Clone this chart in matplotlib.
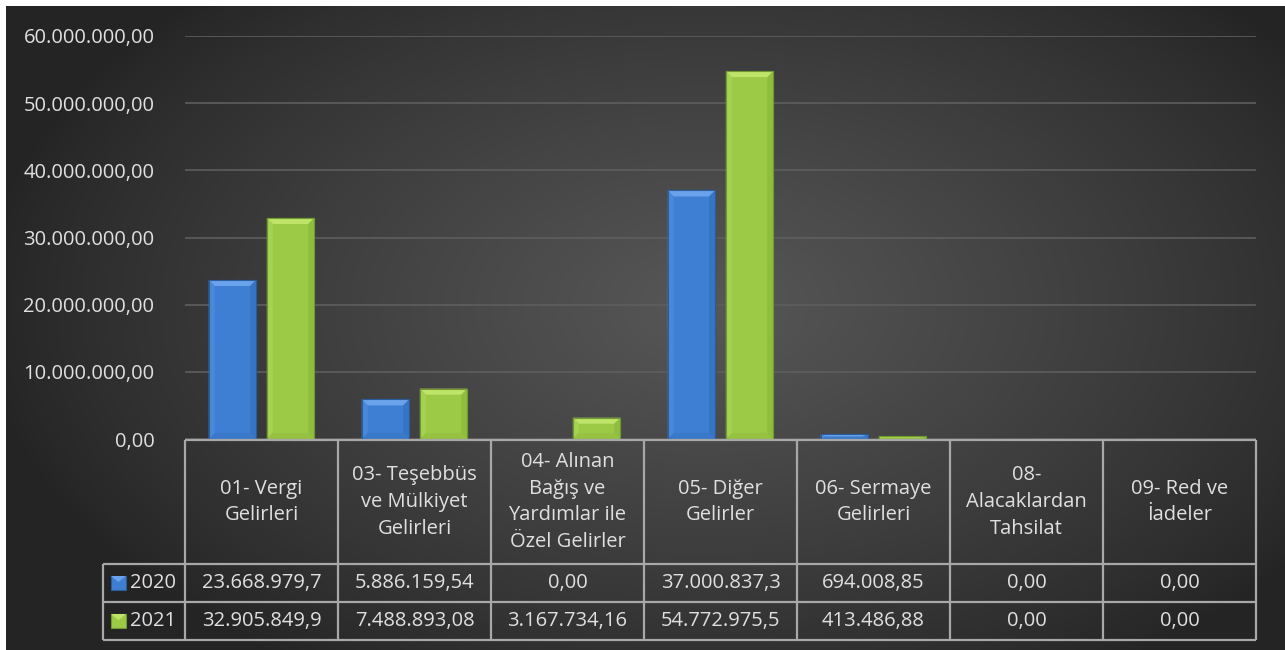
import numpy as np
import matplotlib
matplotlib.use("Agg")
import matplotlib.pyplot as plt
from matplotlib.patches import Polygon, Rectangle

# ---------------- data ----------------
categories = [
    "01- Vergi\nGelirleri",
    "03- Teşebbüs\nve Mülkiyet\nGelirleri",
    "04- Alınan\nBağış ve\nYardımlar ile\nÖzel Gelirler",
    "05- Diğer\nGelirler",
    "06- Sermaye\nGelirleri",
    "08-\nAlacaklardan\nTahsilat",
    "09- Red ve\nİadeler",
]
series_names = ["2020", "2021"]
values_2020 = [23668979.7, 5886159.54, 0.0, 37000837.3, 694008.85, 0.0, 0.0]
values_2021 = [32905849.9, 7488893.08, 3167734.16, 54772975.5, 413486.88, 0.0, 0.0]
table_2020 = ["23.668.979,7", "5.886.159,54", "0,00", "37.000.837,3", "694.008,85", "0,00", "0,00"]
table_2021 = ["32.905.849,9", "7.488.893,08", "3.167.734,16", "54.772.975,5", "413.486,88", "0,00", "0,00"]
y_ticks = [0, 10e6, 20e6, 30e6, 40e6, 50e6, 60e6]

# ---------------- style ----------------
FONT = "Open Sans"
FS = 14.5
TXT = "#e0e0e0"
W, H = 1285, 650
plt.rcParams["font.family"] = [FONT, "DejaVu Sans"]

fig = plt.figure(figsize=(W / 100, H / 100), dpi=100)
fig.patch.set_facecolor("white")

# background gradient
bg = fig.add_axes([6 / W, 0, (W - 6) / W, (H - 6) / H])
bg.set_axis_off()
yy, xx = np.mgrid[0:H - 6, 0:W - 6]
cx, cy, rx, ry = 700, 300, 720, 430
r = np.sqrt(((xx - cx) / rx) ** 2 + ((yy - cy) / ry) ** 2)
f = np.clip(1 - r, 0, 1) ** 0.85
dark, light = 0x25 / 255, 0x57 / 255
g = dark + (light - dark) * f
img = np.dstack([g, g, g])
bg.imshow(img, aspect="auto", extent=[0, 1, 0, 1], origin="upper")
bg.set_xlim(0, 1); bg.set_ylim(0, 1)

def px_axes(l, t, r_, b):
    return [l / W, (H - b) / H, (r_ - l) / W, (b - t) / H]

ax = fig.add_axes(px_axes(185, 36, 1256, 439))
ax.set_facecolor("none")
ax.set_xlim(-0.5, len(categories) - 0.5)
ax.set_ylim(0, 60e6)
for s in ax.spines.values():
    s.set_visible(False)
ax.set_xticks([])
ax.set_yticks(y_ticks)
def tr_fmt(v):
    s = f"{v:,.2f}"
    return s.replace(",", "X").replace(".", ",").replace("X", ".")
ax.set_yticklabels([tr_fmt(v) for v in y_ticks], fontsize=FS, color=TXT)
ax.tick_params(axis="y", length=0, pad=22)
ax.yaxis.grid(True, color="#5e5e5e", lw=1.2)
ax.set_axisbelow(True)

x = np.arange(len(categories))
bw, off = 0.31, 0.19
colors = [
    dict(face="#3f7fd3", edge="#2a5c9c", top="#6aa3ec", left="#4a89da", right="#3674c4", bot="#3a78ca"),
    dict(face="#9cc946", edge="#6f9830", top="#bfe46a", left="#a6d252", right="#8fbd3d", bot="#95c240"),
]
px_per_unit_x = 1071 / 7.0
px_per_val = 403 / 60e6
for si, vals in enumerate([values_2020, values_2021]):
    c = colors[si]
    bars = ax.bar(x + (-off if si == 0 else off), vals, width=bw, color=c["face"],
                  edgecolor=c["edge"], linewidth=0.8, zorder=3)
    for p in bars:
        h = p.get_height()
        if h <= 0:
            continue
        x0, w = p.get_x(), p.get_width()
        dx = 6 / px_per_unit_x
        dy = min(6 / px_per_val, h / 2)
        polys = [
            ([(x0, h), (x0 + w, h), (x0 + w - dx, h - dy), (x0 + dx, h - dy)], c["top"]),
            ([(x0, 0), (x0, h), (x0 + dx, h - dy), (x0 + dx, dy)], c["left"]),
            ([(x0 + w, 0), (x0 + w, h), (x0 + w - dx, h - dy), (x0 + w - dx, dy)], c["right"]),
            ([(x0, 0), (x0 + w, 0), (x0 + w - dx, dy), (x0 + dx, dy)], c["bot"]),
        ]
        for pts, col in polys:
            ax.add_patch(Polygon(pts, closed=True, facecolor=col, edgecolor="none", zorder=4))
        ax.add_patch(Rectangle((x0, 0), w, h, facecolor="none", edgecolor=c["edge"], lw=0.8, zorder=5))

# ---------------- data table ----------------
tb = fig.add_axes(px_axes(185, 440, 1256, 640))
tb.set_axis_off()
tb.set_facecolor("none")
n = len(categories)
tb.set_xlim(-0.5, n - 0.5)
tb.set_ylim(200, 0)
lab_left = -0.5 - 82 / px_per_unit_x
LC = "#a8a8a8"
LW = 1.6
rows_y = [0, 124, 162, 200]
tb.plot([-0.5, n - 0.5], [0, 0], color=LC, lw=LW, clip_on=False, solid_capstyle="butt")
for yv in rows_y[1:]:
    tb.plot([lab_left, n - 0.5], [yv, yv], color=LC, lw=LW, clip_on=False, solid_capstyle="butt")
for k in range(n + 1):
    tb.plot([-0.5 + k, -0.5 + k], [0, 200], color=LC, lw=LW, clip_on=False, solid_capstyle="butt")
tb.plot([lab_left, lab_left], [124, 200], color=LC, lw=LW, clip_on=False, solid_capstyle="butt")

for i, cat in enumerate(categories):
    tb.text(i, 62, cat, ha="center", va="center", fontsize=FS, color=TXT,
            linespacing=1.45, clip_on=False)
    tb.text(i, 143, table_2020[i], ha="center", va="center", fontsize=FS, color=TXT, clip_on=False)
    tb.text(i, 181, table_2021[i], ha="center", va="center", fontsize=FS, color=TXT, clip_on=False)

key_w = 15 / px_per_unit_x
for si, (name, yc) in enumerate(zip(series_names, [143, 181])):
    c = colors[si]
    kx = lab_left + 8 / px_per_unit_x
    tb.add_patch(Rectangle((kx, yc - 7), key_w, 14, facecolor=c["face"], edgecolor=c["edge"],
                           lw=0.8, clip_on=False))
    tb.add_patch(Polygon([(kx, yc - 7), (kx + key_w, yc - 7), (kx + key_w / 2, yc - 1)],
                         closed=True, facecolor=c["top"], edgecolor="none", clip_on=False))
    tb.text(lab_left + 27 / px_per_unit_x, yc, name, ha="left", va="center", fontsize=FS,
            color=TXT, clip_on=False)

fig.savefig("out.png", dpi=100, facecolor=fig.get_facecolor())
